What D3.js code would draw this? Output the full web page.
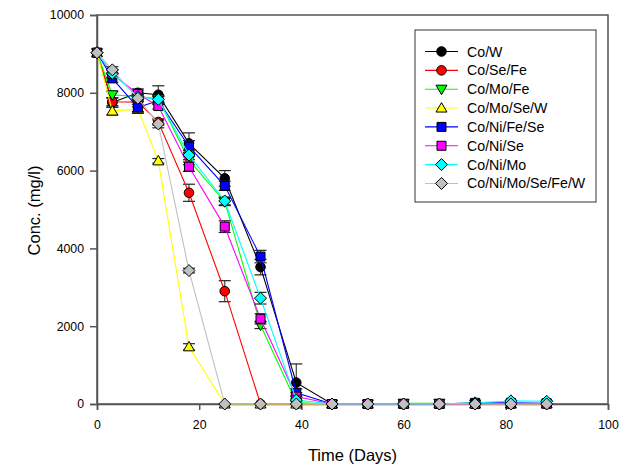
<!DOCTYPE html>
<html>
<head>
<meta charset="utf-8">
<script src="https://cdn.jsdelivr.net/npm/d3@7"></script>
<style>
  html, body { margin: 0; padding: 0; background: #fff; }
  svg { display: block; }
  text { font-family: "Liberation Sans", Arial, sans-serif; fill: #000; }
</style>
</head>
<body>
<svg id="chart" width="634" height="473"></svg>
<script>
// Sampling days
const days = [0, 3, 8, 12, 18, 25, 32, 39, 46, 53, 60, 67, 74, 81, 88];

// Concentration (mg/l) per trace-metal combination
const coW        = [9030, 7750, 8000, 7950, 6700, 5800, 3520, 550, 0, 0, 0, 0, 20, 0, 0];
const coSeFe     = [9030, 7770, 7760, 7250, 5430, 2900, 0, 0, 0, 0, 0, 0, 0, 0, 0];
const coMoFe     = [9030, 7950, 7900, 7850, 6270, 5200, 2030, 40, 0, 0, 20, 20, 0, 0, 0];
const coMoSeW    = [9030, 7530, 7580, 6250, 1470, 0, 0, 0, 0, 0, 0, 0, 0, 0, 0];
const coNiFeSe   = [9030, 8370, 7620, 7800, 6620, 5610, 3790, 290, 0, 0, 0, 0, 30, 30, 20];
const coNiSe     = [9030, 8480, 7970, 7660, 6100, 4560, 2190, 190, 0, 0, 0, 0, 0, 10, 10];
const coNiMo     = [9030, 8500, 7900, 7830, 6400, 5220, 2720, 100, 0, 0, 0, 0, 30, 80, 70];
const coNiMoSeFeW= [9030, 8590, 7860, 7200, 3430, 0, 0, 0, 0, 0, 0, 0, 0, 0, 0];

// Standard deviations
const errCoW       = [0, 120, 100, 230, 270, 200, 200, 480, 0, 0, 0, 0, 0, 0, 0];
const errCoSeFe    = [0, 100, 60, 80, 220, 270, 0, 0, 0, 0, 0, 0, 0, 0, 0];
const errCoMoFe    = [0, 80, 60, 80, 120, 100, 90, 0, 0, 0, 0, 0, 0, 0, 0];
const errCoMoSeW   = [0, 100, 60, 60, 80, 0, 0, 0, 0, 0, 0, 0, 0, 0, 0];
const errCoNiFeSe  = [0, 100, 150, 100, 150, 120, 160, 100, 0, 0, 0, 0, 0, 0, 0];
const errCoNiSe    = [0, 100, 80, 80, 120, 150, 130, 100, 0, 0, 0, 0, 0, 0, 0];
const errCoNiMo    = [0, 100, 80, 80, 120, 100, 150, 120, 0, 0, 0, 0, 0, 0, 0];
const errCoNiMoSeFeW = [0, 80, 80, 100, 60, 0, 0, 0, 0, 0, 0, 0, 0, 0, 0];

const seriesNames = ["Co/W", "Co/Se/Fe", "Co/Mo/Fe", "Co/Mo/Se/W", "Co/Ni/Fe/Se", "Co/Ni/Se", "Co/Ni/Mo", "Co/Ni/Mo/Se/Fe/W"];
const seriesColors = ["#000000", "#ff0000", "#00ff00", "#ffff00", "#0000ff", "#ff00ff", "#00ffff", "#c0c0c0"];
const seriesMarkers = ["circle", "circle", "triangleDown", "triangle", "square", "square", "diamond", "diamond"];
const seriesFill = ["#000000", "#ff0000", "#00ff00", "#ffff00", "#0000ff", "#ff00ff", "#00ffff", "#c0c0c0"];

const xTicks = [0, 20, 40, 60, 80, 100];
const yTicks = [0, 2000, 4000, 6000, 8000, 10000];

const values = [coW, coSeFe, coMoFe, coMoSeW, coNiFeSe, coNiSe, coNiMo, coNiMoSeFeW];
const errors = [errCoW, errCoSeFe, errCoMoFe, errCoMoSeW, errCoNiFeSe, errCoNiSe, errCoNiMo, errCoNiMoSeFeW];

const series = seriesNames.map((name, i) => ({
  name, color: seriesColors[i], fill: seriesFill[i], marker: seriesMarkers[i],
  points: days.map((d, j) => ({ x: d, y: values[i][j], e: errors[i][j] }))
}));

const svg = d3.select("#chart");
const plotL = 97, plotR = 608, plotT = 15, plotB = 404;

const x = d3.scaleLinear().domain([0, 100]).range([plotL, plotR]);
const y = d3.scaleLinear().domain([0, 10000]).range([plotB, plotT]);

const axisColor = "#555";

// Plot frame
svg.append("rect")
  .attr("x", plotL).attr("y", plotT)
  .attr("width", plotR - plotL).attr("height", plotB - plotT)
  .attr("fill", "none").attr("stroke", axisColor).attr("stroke-width", 1.5);

// Axes
const xAxis = svg.append("g").attr("transform", `translate(0,${plotB})`)
  .call(d3.axisBottom(x).tickValues(xTicks).tickSize(6).tickPadding(10).tickFormat(d3.format("d")));
const yAxis = svg.append("g").attr("transform", `translate(${plotL},0)`)
  .call(d3.axisLeft(y).tickValues(yTicks).tickSize(7).tickPadding(6).tickFormat(d3.format("d")));
[xAxis, yAxis].forEach(g => {
  g.select(".domain").attr("stroke", axisColor).attr("stroke-width", 1.5);
  g.selectAll(".tick line").attr("stroke", axisColor).attr("stroke-width", 1.5);
  g.selectAll(".tick text").attr("font-size", 12.3).attr("font-family", "Liberation Sans, Arial, sans-serif").attr("fill", "#000");
});

// Axis titles
svg.append("text")
  .attr("x", (plotL + plotR) / 2).attr("y", 461)
  .attr("text-anchor", "middle").attr("font-size", 16.5)
  .text("Time (Days)");
svg.append("text")
  .attr("transform", `translate(40,${(plotT + plotB) / 2 + 1}) rotate(-90)`)
  .attr("text-anchor", "middle").attr("font-size", 16.5)
  .text("Conc. (mg/l)");

// Marker shapes
function markerPath(type) {
  switch (type) {
    case "circle": return d3.symbol(d3.symbolCircle, 72)();
    case "square": return "M-4.5,-4.5H4.5V4.5H-4.5Z";
    case "diamond": return "M0,-6L6,0L0,6L-6,0Z";
    case "triangle": return "M0,-5.5L5.5,4L-5.5,4Z";
    case "triangleDown": return "M0,5.5L5.5,-4L-5.5,-4Z";
  }
}

const line = d3.line().x(d => x(d.x)).y(d => y(d.y));

series.forEach(s => {
  const g = svg.append("g");
  // error bars
  const eb = g.selectAll(".eb").data(s.points.filter(p => p.e > 0)).join("g");
  eb.append("line")
    .attr("x1", d => x(d.x)).attr("x2", d => x(d.x))
    .attr("y1", d => y(d.y + d.e)).attr("y2", d => y(Math.max(0, d.y - d.e)))
    .attr("stroke", "#444").attr("stroke-width", 1.2);
  eb.append("line")
    .attr("x1", d => x(d.x) - 6).attr("x2", d => x(d.x) + 6)
    .attr("y1", d => y(d.y + d.e)).attr("y2", d => y(d.y + d.e))
    .attr("stroke", "#222").attr("stroke-width", 1.2);
  eb.append("line")
    .attr("x1", d => x(d.x) - 6).attr("x2", d => x(d.x) + 6)
    .attr("y1", d => y(Math.max(0, d.y - d.e))).attr("y2", d => y(Math.max(0, d.y - d.e)))
    .attr("stroke", "#222").attr("stroke-width", 1.2);
  // connecting line
  g.append("path").datum(s.points)
    .attr("d", line).attr("fill", "none")
    .attr("stroke", s.color).attr("stroke-width", 1.1);
  // markers
  g.selectAll(".m").data(s.points).join("path")
    .attr("transform", d => `translate(${x(d.x)},${y(d.y)})`)
    .attr("d", markerPath(s.marker))
    .attr("fill", s.fill).attr("stroke", "#000").attr("stroke-width", 1);
});

// Legend
const lg = svg.append("g");
lg.append("rect").attr("x", 415).attr("y", 30).attr("width", 181).attr("height", 172)
  .attr("fill", "#fff").attr("stroke", "#333").attr("stroke-width", 1);
series.forEach((s, i) => {
  const cy = 51.5 + i * 18.85;
  lg.append("line").attr("x1", 425).attr("x2", 458).attr("y1", cy).attr("y2", cy)
    .attr("stroke", s.color).attr("stroke-width", 1.1);
  lg.append("path").attr("transform", `translate(441.5,${cy})`)
    .attr("d", markerPath(s.marker)).attr("fill", s.fill).attr("stroke", "#000").attr("stroke-width", 1);
  lg.append("text").attr("x", 467).attr("y", cy + 5).attr("font-size", 14.2).text(s.name);
});
</script>
</body>
</html>
